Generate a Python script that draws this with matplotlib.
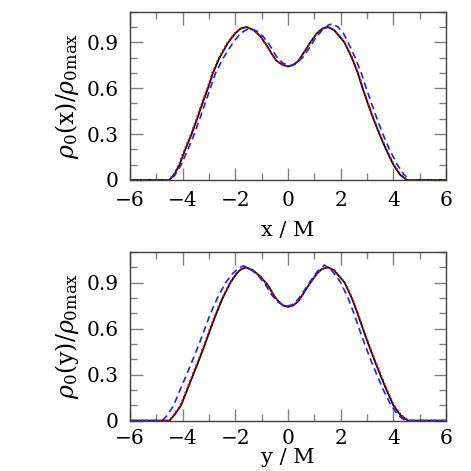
import matplotlib
matplotlib.use("Agg")
import matplotlib.pyplot as plt
from matplotlib.ticker import MultipleLocator

plt.rcParams['mathtext.fontset'] = 'dejavuserif'
plt.rcParams['font.family'] = ['DejaVu Serif']
plt.rcParams['axes.unicode_minus'] = True

# ---- data: top panel (x cut) ----
top_black_x = [-6.0, -4.5, -4.3, -4.12, -3.9, -3.66, -3.45, -3.25, -3.04, -2.85, -2.6, -2.27, -2.0, -1.8,
               -1.57, -1.3, -1.05, -0.81, -0.6, -0.44, -0.2, 0.0, 0.2, 0.4, 0.63, 0.85, 1.1, 1.3, 1.52,
               1.75, 1.95, 2.14, 2.42, 2.65, 2.83, 3.03, 3.24, 3.47, 3.72, 4.0, 4.25, 4.5, 6.0]
top_black_y = [0.0, 0.0, 0.04, 0.1, 0.2, 0.3, 0.4, 0.5, 0.6, 0.7, 0.8, 0.9, 0.96, 0.99,
               1.0, 0.98, 0.94, 0.88, 0.82, 0.78, 0.752, 0.742, 0.752, 0.78, 0.84, 0.9, 0.96, 0.99, 1.0,
               0.98, 0.94, 0.9, 0.8, 0.7, 0.6, 0.5, 0.4, 0.3, 0.2, 0.1, 0.035, 0.0, 0.0]
top_red_x = [-6.0, -4.52, -4.33, -4.15, -3.93, -3.69, -3.48, -3.28, -3.07, -2.88, -2.63, -2.3, -2.02, -1.82,
             -1.59, -1.31, -1.06, -0.82, -0.61, -0.45, -0.2, 0.0, 0.2, 0.4, 0.63, 0.85, 1.1, 1.3, 1.53,
             1.77, 1.97, 2.16, 2.44, 2.67, 2.85, 3.05, 3.26, 3.49, 3.75, 4.03, 4.29, 4.55, 6.0]
top_red_y = top_black_y
top_blue_x = [-6.0, -4.5, -4.3, -4.05, -3.8, -3.56, -3.35, -3.15, -2.95, -2.75, -2.45, -2.08, -1.8, -1.5,
              -1.2, -0.95, -0.69, -0.45, -0.2, 0.05, 0.3, 0.55, 0.8, 1.05, 1.3, 1.55, 1.7, 1.9, 2.1,
              2.28, 2.55, 2.78, 2.97, 3.17, 3.38, 3.6, 3.85, 4.15, 4.4, 4.65, 6.0]
top_blue_y = [0.0, 0.0, 0.03, 0.1, 0.2, 0.3, 0.4, 0.5, 0.6, 0.7, 0.8, 0.9, 0.96, 0.99,
              0.975, 0.94, 0.88, 0.81, 0.765, 0.745, 0.76, 0.8, 0.86, 0.93, 0.98, 1.015, 1.02, 1.0, 0.96,
              0.9, 0.8, 0.7, 0.6, 0.5, 0.4, 0.3, 0.2, 0.1, 0.035, 0.0, 0.0]

# ---- data: bottom panel (y cut) ----
bot_black_x = [-6.0, -4.5, -4.3, -4.06, -3.83, -3.6, -3.37, -3.15, -2.94, -2.72, -2.48, -2.19, -1.95, -1.8,
               -1.6, -1.33, -1.05, -0.75, -0.55, -0.4, -0.2, 0.0, 0.2, 0.4, 0.62, 0.85, 1.1, 1.3, 1.52,
               1.75, 1.95, 2.15, 2.42, 2.64, 2.84, 3.05, 3.27, 3.5, 3.74, 4.0, 4.27, 4.55, 6.0]
bot_black_y = [0.0, 0.0, 0.04, 0.1, 0.2, 0.3, 0.4, 0.5, 0.6, 0.7, 0.8, 0.9, 0.96, 0.985,
               1.0, 0.98, 0.94, 0.88, 0.82, 0.785, 0.752, 0.742, 0.752, 0.78, 0.84, 0.9, 0.96, 0.99, 1.0,
               0.98, 0.94, 0.9, 0.8, 0.7, 0.6, 0.5, 0.4, 0.3, 0.2, 0.1, 0.035, 0.0, 0.0]
bot_red_x = [-6.0, -4.52, -4.33, -4.09, -3.86, -3.63, -3.4, -3.18, -2.97, -2.75, -2.5, -2.21, -1.97, -1.81,
             -1.61, -1.33, -1.05, -0.75, -0.55, -0.4, -0.2, 0.0, 0.2, 0.4, 0.62, 0.85, 1.1, 1.3, 1.53,
             1.77, 1.97, 2.17, 2.44, 2.66, 2.86, 3.07, 3.29, 3.53, 3.77, 4.03, 4.31, 4.6, 6.0]
bot_red_y = bot_black_y
bot_blue_x = [-6.0, -4.78, -4.58, -4.34, -4.1, -3.85, -3.61, -3.375, -3.16, -2.94, -2.68, -2.37, -2.1, -1.9,
              -1.7, -1.45, -1.15, -0.87, -0.62, -0.4, -0.1, 0.15, 0.38, 0.62, 0.85, 1.1, 1.38, 1.6, 1.8,
              2.0, 2.28, 2.5, 2.7, 2.91, 3.13, 3.37, 3.62, 3.91, 4.18, 4.45, 6.0]
bot_blue_y = [0.0, 0.0, 0.035, 0.1, 0.2, 0.3, 0.4, 0.5, 0.6, 0.7, 0.8, 0.9, 0.96, 0.99,
              1.01, 0.99, 0.95, 0.89, 0.82, 0.775, 0.745, 0.755, 0.79, 0.85, 0.91, 0.97, 1.015, 0.99, 0.95,
              0.9, 0.8, 0.7, 0.6, 0.5, 0.4, 0.3, 0.2, 0.1, 0.035, 0.0, 0.0]

x_ticks = [-6, -4, -2, 0, 2, 4, 6]
x_ticklabels = ['\u22126', '\u22124', '\u22122', '0', '2', '4', '6']
y_ticks = [0, 0.3, 0.6, 0.9]
y_ticklabels = ['0', '0.3', '0.6', '0.9']

fig = plt.figure(figsize=(4.71, 4.71), dpi=100)
ax1 = fig.add_axes([0.276, 0.618, 0.671, 0.357])
ax2 = fig.add_axes([0.276, 0.107, 0.671, 0.358])

panels = [
    (ax1, top_black_x, top_black_y, top_red_x, top_red_y, top_blue_x, top_blue_y,
     'x / M', r'$\rho_0(\mathrm{x})/\rho_{0\mathrm{max}}$', 8, 8),
    (ax2, bot_black_x, bot_black_y, bot_red_x, bot_red_y, bot_blue_x, bot_blue_y,
     'y / M', r'$\rho_0(\mathrm{y})/\rho_{0\mathrm{max}}$', 6, 0),
]

for ax, bx, by, rx, ry, ux, uy, xl, yl, xpad, xlpad in panels:
    ax.plot(bx, by, color='black', lw=1.3, solid_joinstyle='round')
    ax.plot(rx, ry, color='red', lw=1.2, ls=(0, (1, 1.5)))
    ax.plot(ux, uy, color='#1f1fff', lw=1.2, ls=(0, (4, 2.5)))
    ax.set_xlim(-6, 6)
    ax.set_ylim(0, 1.1)
    ax.set_xticks(x_ticks)
    ax.set_xticklabels(x_ticklabels)
    ax.set_yticks(y_ticks)
    ax.set_yticklabels(y_ticklabels)
    ax.xaxis.set_minor_locator(MultipleLocator(1))
    ax.yaxis.set_minor_locator(MultipleLocator(0.1))
    ax.tick_params(which='both', direction='in', top=True, right=True, color='#808080',
                   labelsize=14.5, width=1)
    ax.tick_params(which='major', length=9)
    ax.tick_params(which='minor', length=5)
    ax.tick_params(axis='x', pad=xpad)
    ax.tick_params(axis='y', pad=8)
    for sp in ax.spines.values():
        sp.set_color('#404040')
        sp.set_linewidth(1)
    ax.set_xlabel(xl, fontsize=15, labelpad=xlpad)
    ax.set_ylabel(yl, fontsize=17, labelpad=4)

fig.savefig('out.png', dpi=100)
